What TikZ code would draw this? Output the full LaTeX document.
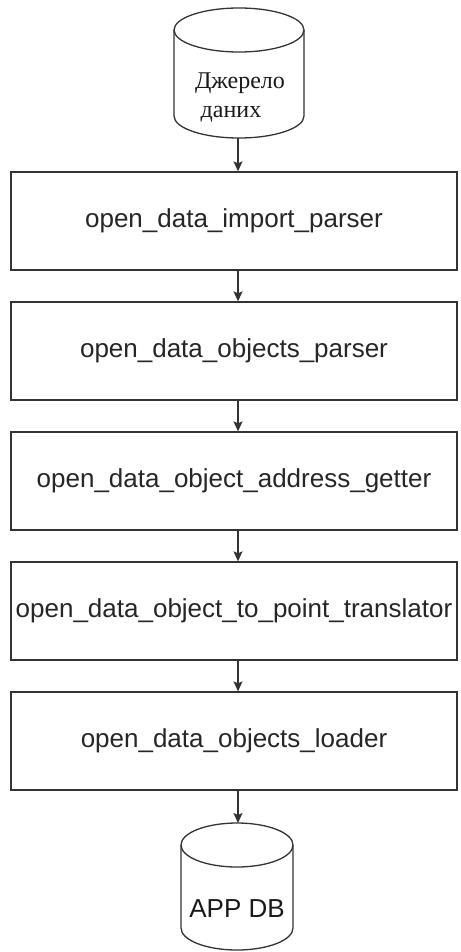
\documentclass[tikz,border=0pt]{standalone}
\usepackage{fontspec}
\setmainfont{Liberation Sans}
\newfontfamily\cyrserif{Liberation Serif}
\usetikzlibrary{arrows.meta}

\begin{document}
\begin{tikzpicture}[x=1pt,y=1pt,
  ink/.style={draw=black!80, line width=1.3pt},
  stagebox/.style={ink, fill=white, minimum width=446pt, minimum height=98pt,
    inner sep=0pt, text=black!85, font=\fontsize{26}{30}\selectfont},
  dbbody/.style={ink, fill=white},
  dbframe/.style={inner sep=0pt, outer sep=0pt},
  dblabel/.style={inner sep=0pt, text=black!90, align=center},
  flow/.style={draw=black!80, line width=1.3pt,
    -{Stealth[length=10pt,width=9pt,inset=2pt]}}]
\useasboundingbox (0,0) rectangle (460,-952);

% common vertical axis of the connectors
\coordinate (axis) at (238,0);

% source cylinder
\path[dbbody] (174,-30) -- (174,-116)
  arc[start angle=180,end angle=360,x radius=65,y radius=22] -- (304,-30)
  arc[start angle=0,end angle=180,x radius=65,y radius=22] -- cycle;
\draw[ink] (174,-30) arc[start angle=180,end angle=360,x radius=65,y radius=22];
\node[dbframe, minimum width=130pt, minimum height=130pt] (src) at (238,-73) {};
\node[dblabel, font=\cyrserif\fontsize{24}{29}\selectfont] (srclabel) at (240,-97)
  {Джерело\\даних\hspace*{18pt}};

% processing stages
\node[stagebox] (s1) at (234,-221) {open\_data\_import\_parser};
\node[stagebox] (s2) at (234,-351) {open\_data\_objects\_parser};
\node[stagebox] (s3) at (234,-481) {open\_data\_object\_address\_getter};
\node[stagebox] (s4) at (234,-611) {open\_data\_object\_to\_point\_translator};
\node[stagebox] (s5) at (234,-741) {open\_data\_objects\_loader};

% target cylinder
\path[dbbody] (181,-845) -- (181,-928)
  arc[start angle=180,end angle=360,x radius=56,y radius=22] -- (293,-845)
  arc[start angle=0,end angle=180,x radius=56,y radius=22] -- cycle;
\draw[ink] (181,-845) arc[start angle=180,end angle=360,x radius=56,y radius=22];
\node[dbframe, minimum width=112pt, minimum height=127pt] (db) at (237,-886.5) {};
\node[dblabel, font=\fontsize{26}{30}\selectfont] (dblabel) at (237,-909) {APP DB};

% connectors
\draw[flow] (src.south -| axis) -- (s1.north -| axis);
\draw[flow] (s1.south -| axis) -- (s2.north -| axis);
\draw[flow] (s2.south -| axis) -- (s3.north -| axis);
\draw[flow] (s3.south -| axis) -- (s4.north -| axis);
\draw[flow] (s4.south -| axis) -- (s5.north -| axis);
\draw[flow] (s5.south -| axis) -- (db.north -| axis);
\end{tikzpicture}
\end{document}
